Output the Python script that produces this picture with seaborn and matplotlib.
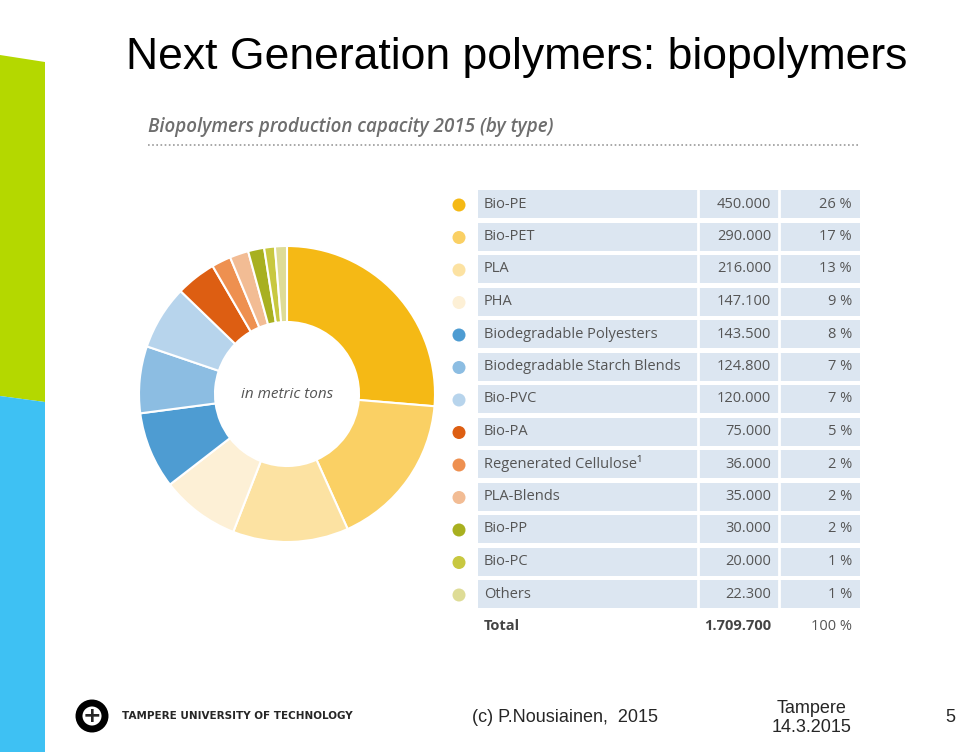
import matplotlib
matplotlib.use("Agg")
import matplotlib.pyplot as plt
import seaborn as sns
from matplotlib.patches import Rectangle, Polygon, Circle

sns.set_theme(style="white")

categories = ["Bio-PE", "Bio-PET", "PLA", "PHA", "Biodegradable Polyesters",
              "Biodegradable Starch Blends", "Bio-PVC", "Bio-PA",
              "Regenerated Cellulose¹", "PLA-Blends", "Bio-PP", "Bio-PC", "Others"]
values = [450.0, 290.0, 216.0, 147.1, 143.5, 124.8, 120.0, 75.0, 36.0, 35.0, 30.0, 20.0, 22.3]
value_labels = ["450.000", "290.000", "216.000", "147.100", "143.500", "124.800", "120.000",
                "75.000", "36.000", "35.000", "30.000", "20.000", "22.300"]
percents = ["26 %", "17 %", "13 %", "9 %", "8 %", "7 %", "7 %", "5 %", "2 %", "2 %", "2 %", "1 %", "1 %"]
colors = ["#F5B915", "#FAD064", "#FCE2A2", "#FDF0D6", "#4E9CD2", "#8CBDE2", "#B7D4EC",
          "#DD5E12", "#EE9050", "#F2BC94", "#A8B020", "#C8C840", "#DEDC96"]

W, H = 960, 752
fig = plt.figure(figsize=(9.6, 7.52), dpi=100)
bg = fig.add_axes([0, 0, 1, 1])
bg.set_xlim(0, W); bg.set_ylim(H, 0); bg.axis("off")

# side bars
bg.add_patch(Polygon([(0, 55), (45, 62), (45, 402), (0, 396)], color="#B4D800", lw=0))
bg.add_patch(Polygon([(0, 396), (45, 402), (45, 752), (0, 752)], color="#3EC1F3", lw=0))

bg.text(126, 57, "Next Generation polymers: biopolymers", fontsize=32,
        family="Liberation Sans", va="center", color="black")
bg.text(148, 127, "Biopolymers production capacity 2015 (by type)", fontsize=13.5,
        style="italic", weight="semibold", color="#6E6E6E", va="center", family="Open Sans")
bg.plot([148, 858], [145, 145], ls=(0, (1, 1.5)), color="#9A9A9A", lw=1.2)

# table
y0, dy = 204, 32.5
for i, (c, v, p, col) in enumerate(zip(categories, value_labels, percents, colors)):
    y = y0 + i * dy
    bg.add_patch(Rectangle((478, y - 14), 382, 28, color="#DCE6F1", lw=0))
    bg.plot([698, 698], [y - 14, y + 14], color="white", lw=2)
    bg.plot([779, 779], [y - 14, y + 14], color="white", lw=2)
    bg.add_patch(Circle((459, y + 1), 6.5, color=col, lw=0))
    bg.text(484, y, c, fontsize=10.5, color="#555555", va="center", family="Open Sans")
    bg.text(771, y, v, fontsize=10.5, color="#555555", va="center", ha="right", family="Open Sans")
    bg.text(852, y, p, fontsize=10.5, color="#555555", va="center", ha="right", family="Open Sans")
yt = y0 + len(categories) * dy
bg.text(484, yt, "Total", fontsize=10.5, color="#444444", va="center", weight="bold", family="Open Sans")
bg.text(771, yt, "1.709.700", fontsize=10.5, color="#444444", va="center", ha="right", weight="bold", family="Open Sans")
bg.text(852, yt, "100 %", fontsize=10.5, color="#555555", va="center", ha="right", family="Open Sans")

# footer
bg.add_patch(Circle((92, 716), 13, fill=False, ec="black", lw=5))
bg.text(92, 716, "+", fontsize=16, weight="bold", ha="center", va="center")
bg.text(122, 716, "TAMPERE UNIVERSITY OF TECHNOLOGY", fontsize=7.5, weight="bold", va="center",
        family="DejaVu Sans")
bg.text(565, 718, "(c) P.Nousiainen,  2015", fontsize=13, ha="center", va="center", family="Liberation Sans")
bg.text(812, 718, "Tampere\n14.3.2015", fontsize=13, ha="center", va="center", family="Liberation Sans")
bg.text(955, 718, "5", fontsize=13, ha="right", va="center", family="Liberation Sans")

# donut
cx, cy, r = 287, 394, 148
ax = fig.add_axes([(cx - r) / W, (H - cy - r) / H, 2 * r / W, 2 * r / H])
ax.pie(values, colors=colors, startangle=90, counterclock=False,
       wedgeprops=dict(width=76 / 148, edgecolor="white", linewidth=1.5))
ax.set_xlim(-1, 1); ax.set_ylim(-1, 1)
ax.set_aspect("equal")
ax.text(0, 0, "in metric tons", fontsize=11, style="italic", color="#555555",
        ha="center", va="center", family="Open Sans")

fig.savefig("out.png", dpi=100)
